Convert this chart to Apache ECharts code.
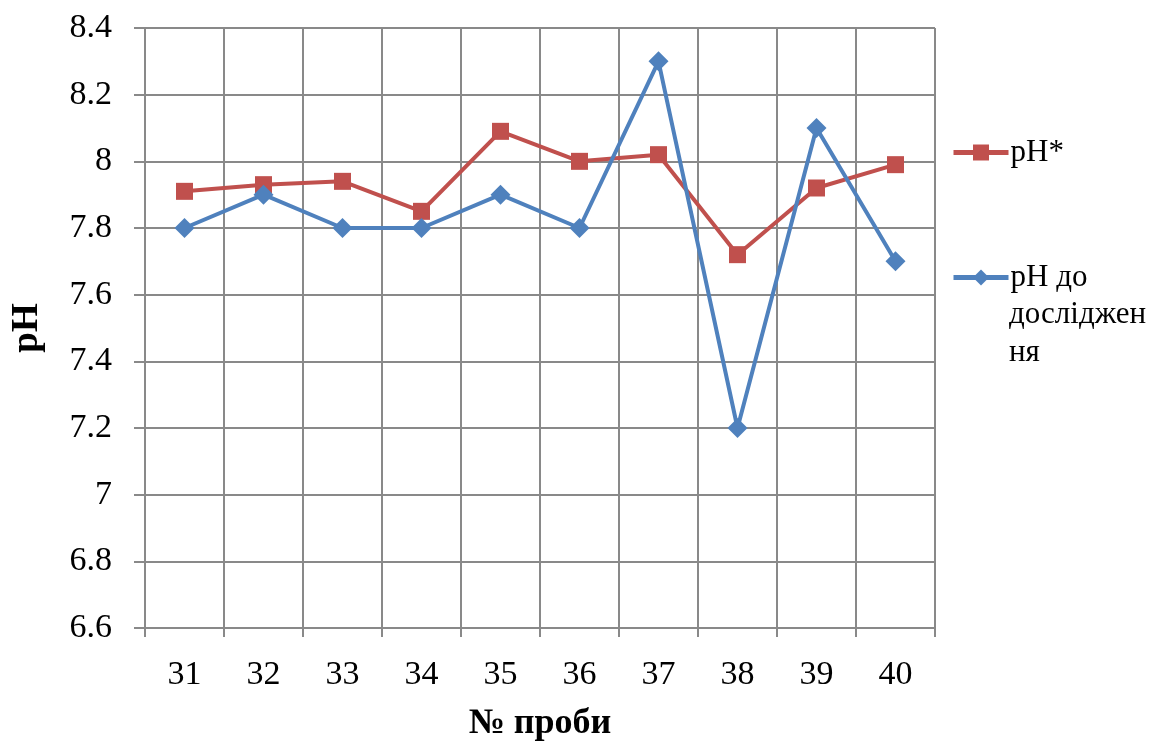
<!DOCTYPE html>
<html>
<head>
<meta charset="utf-8">
<script src="https://cdn.jsdelivr.net/npm/echarts@6/dist/echarts.min.js"></script>
<style>
  html, body { margin: 0; padding: 0; background: #fff; }
  #chart { width: 1155px; height: 742px; }
</style>
</head>
<body>
<div id="chart"></div>
<script>
// Sample numbers on the x axis
const samples = ['31', '32', '33', '34', '35', '36', '37', '38', '39', '40'];
// pH after treatment (pH*)
const phAfter = [7.91, 7.93, 7.94, 7.85, 8.09, 8.00, 8.02, 7.72, 7.92, 7.99];
// pH before investigation
const phBefore = [7.8, 7.9, 7.8, 7.8, 7.9, 7.8, 8.3, 7.2, 8.1, 7.7];

const seriesNames = ['pH*', 'pH до дослідження'];
// The long legend entry wraps onto three lines
const legendLines = ['pH до', 'досліджен', 'ня'];

const FONT = "'Liberation Serif', 'Times New Roman', serif";
const GRID_COLOR = '#898989';
const RED = '#C0504D';
const BLUE = '#4F81BD';

const chart = echarts.init(document.getElementById('chart'), null, { renderer: 'canvas' });

const legendBase = {
  left: 951,
  itemWidth: 55,
  itemHeight: 20,
  itemGap: 0,
  padding: 0,
  lineStyle: { width: 5 },
  textStyle: { fontFamily: FONT, fontSize: 31, color: '#000', padding: [4, 0, 0, -3] }
};

chart.setOption({
  animation: false,
  backgroundColor: '#fff',
  textStyle: { fontFamily: FONT, color: '#000' },
  grid: {
    left: 145, top: 28, width: 790, height: 600,
    containLabel: false,
    outerBoundsMode: 'none'
  },
  legend: [
    Object.assign({}, legendBase, { data: [seriesNames[0]], top: 137 }),
    Object.assign({}, legendBase, {
      data: [seriesNames[1]],
      top: 262,
      formatter: () => legendLines[0]
    })
  ],
  graphic: [
    {
      type: 'text',
      left: 1009,
      top: 296,
      style: {
        text: legendLines.slice(1).join('\n'),
        font: "31px 'Liberation Serif', 'Times New Roman', serif",
        lineHeight: 38,
        fill: '#000'
      }
    }
  ],
  xAxis: {
    type: 'category',
    data: samples,
    boundaryGap: true,
    name: '№ проби',
    nameLocation: 'middle',
    nameGap: 78,
    nameTextStyle: { fontFamily: FONT, fontSize: 36, fontWeight: 'bold', color: '#000' },
    axisLine: { lineStyle: { color: GRID_COLOR, width: 2 } },
    axisTick: { show: true, length: 9, lineStyle: { color: GRID_COLOR, width: 2 } },
    axisLabel: { fontFamily: FONT, fontSize: 34, color: '#000', margin: 30 },
    splitLine: { show: true, lineStyle: { color: GRID_COLOR, width: 2 } }
  },
  yAxis: {
    type: 'value',
    min: 6.6,
    max: 8.4,
    interval: 0.2,
    name: 'pH',
    nameLocation: 'middle',
    nameGap: 99,
    nameTextStyle: { fontFamily: FONT, fontSize: 37, fontWeight: 'bold', color: '#000' },
    axisLine: { show: true, lineStyle: { color: GRID_COLOR, width: 2 } },
    axisTick: { show: true, length: 11, lineStyle: { color: GRID_COLOR, width: 2 } },
    axisLabel: {
      fontFamily: FONT, fontSize: 34, color: '#000', margin: 33,
      formatter: v => String(parseFloat(v.toFixed(1)))
    },
    splitLine: { show: true, lineStyle: { color: GRID_COLOR, width: 2 } }
  },
  series: [
    {
      name: seriesNames[0],
      type: 'line',
      data: phAfter,
      symbol: 'rect',
      symbolSize: 17,
      color: RED,
      lineStyle: { width: 4, color: RED },
      itemStyle: { color: RED },
      z: 3
    },
    {
      name: seriesNames[1],
      type: 'line',
      data: phBefore,
      symbol: 'diamond',
      symbolSize: 20,
      color: BLUE,
      lineStyle: { width: 4, color: BLUE },
      itemStyle: { color: BLUE },
      z: 4
    }
  ]
});
</script>
</body>
</html>
